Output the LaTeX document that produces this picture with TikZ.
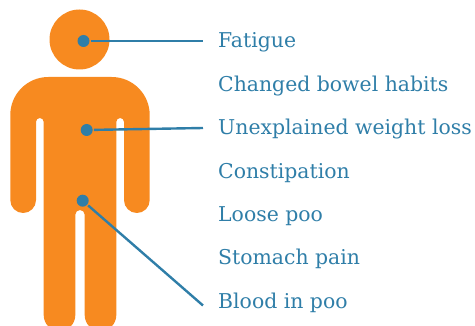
\documentclass[tikz,border=0pt]{standalone}
\usepackage{fontspec}
\setmainfont{DejaVu Serif}
\definecolor{bodyorange}{HTML}{F78A20}
\definecolor{labelblue}{HTML}{2F7EA8}
\tikzset{
  dot/.style={circle,fill=labelblue,draw=none,inner sep=0pt,minimum size=12pt},
  symptom/.style={anchor=base west,inner sep=0pt,text=labelblue,font=\fontsize{20.4pt}{24pt}\selectfont}
}

\begin{document}
\begin{tikzpicture}[-,line width=2.4pt,x=1pt,y=-1pt,color=labelblue]
	\useasboundingbox (0,0) rectangle (475,326);
	\clip (0,0) rectangle (475,326);
	% figure
	\fill[bodyorange] (79.5,39.5) circle (30pt);
	\fill[bodyorange,rounded corners=38pt] (10.3,150) -- (10.3,77) -- (149.7,77)
		[rounded corners=12.85pt] -- (149.7,213) -- (124,213)
		[rounded corners=3.85pt] -- (124,118) -- (116.3,118)
		[rounded corners=15.8pt] -- (116.3,331) -- (84.7,331)
		[rounded corners=4.7pt] -- (84.7,210) -- (75.3,210)
		[rounded corners=15.8pt] -- (75.3,331) -- (43.7,331)
		[rounded corners=3.85pt] -- (43.7,118) -- (36,118)
		[rounded corners=12.85pt] -- (36,213) -- (10.3,213) -- (10.3,150) -- cycle;
	% labels
	\node[symptom] (fatigue) at (217,48){Fatigue};
	\node[symptom] (bowel) at (217,91.5){Changed bowel habits};
	\node[symptom] (weight) at (217,135){Unexplained weight loss};
	\node[symptom] (constipation) at (217,179){Constipation};
	\node[symptom] (loose) at (217,222){Loose poo};
	\node[symptom] (stomach) at (217,265){Stomach pain};
	\node[symptom] (blood) at (217,309){Blood in poo};
	% pointers
	\node[dot] (headdot) at (83.5,41){};
	\node[dot] (chestdot) at (86.7,130){};
	\node[dot] (hipdot) at (82.7,200.7){};
	\coordinate (headend) at (203,41);
	\coordinate (chestend) at (203,128);
	\coordinate (hipend) at (203,305.5);
	\draw (headdot) -- (headend);
	\draw (chestdot) -- (chestend);
	\draw (hipdot) -- (hipend);
\end{tikzpicture}
\end{document}
